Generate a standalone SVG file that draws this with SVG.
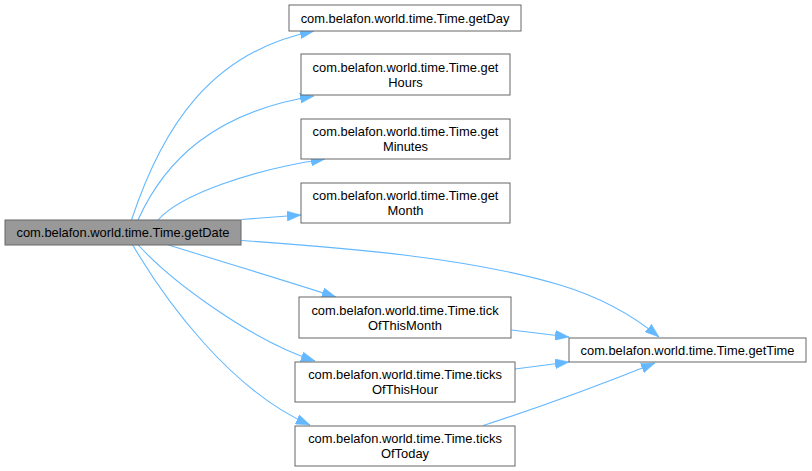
<svg xmlns="http://www.w3.org/2000/svg" width="812" height="471" viewBox="0 0 812 471">
<defs>
<style>
.node rect{fill:#ffffff;stroke:#666666;stroke-width:1}
.node.main rect{fill:#999999}
.node text{font-family:"Liberation Sans",Arial,sans-serif;font-size:12.9px;fill:#000000;text-anchor:middle}
.edges path{fill:none;stroke:#63b8ff;stroke-width:1.1}
</style>
<marker id="ah" viewBox="0 0 14 10" refX="14" refY="5" markerWidth="14" markerHeight="10" markerUnits="userSpaceOnUse" orient="auto">
<path d="M0,0 L14,5 L0,10 z" fill="#63b8ff" stroke="#63b8ff" stroke-width="0.5"/>
</marker>
</defs>
<rect width="812" height="471" fill="#ffffff"/>
<g class="edges">
<path marker-end="url(#ah)" d="M131.5,220 C162,128 210,52 314,31"/>
<path marker-end="url(#ah)" d="M138,220 C165,160 215,112 314,96"/>
<path marker-end="url(#ah)" d="M158,220 C180,195 250,170 325,159"/>
<path marker-end="url(#ah)" d="M241.5,219.5 L301,215"/>
<path marker-end="url(#ah)" d="M241.5,240.5 C350,248 470,258 560,285 C600,297 630,313 659,337"/>
<path marker-end="url(#ah)" d="M168.5,245 C220,261 280,279 336,297"/>
<path marker-end="url(#ah)" d="M138.3,245 C170,280 250,340 315,361"/>
<path marker-end="url(#ah)" d="M132.7,245 C165,300 230,390 310,425"/>
<path marker-end="url(#ah)" d="M511.5,330 L569,337"/>
<path marker-end="url(#ah)" d="M515,369 L569,362"/>
<path marker-end="url(#ah)" d="M483.3,425.5 C525,412 600,385 655,363"/>
</g>
<g id="node_getDate" class="node main">
<rect x="5" y="220" width="236" height="25"/>
<text x="123" y="237">com.belafon.world.time.Time.getDate</text>
</g>
<g id="node_getDay" class="node">
<rect x="289" y="5" width="232" height="26"/>
<text x="405" y="22.5">com.belafon.world.time.Time.getDay</text>
</g>
<g id="node_getHours" class="node">
<rect x="301" y="54" width="209" height="41"/>
<text x="405.5" y="71.5">com.belafon.world.time.Time.get</text>
<text x="405.5" y="86.5">Hours</text>
</g>
<g id="node_getMinutes" class="node">
<rect x="301" y="119" width="209" height="40"/>
<text x="405.5" y="136">com.belafon.world.time.Time.get</text>
<text x="405.5" y="151">Minutes</text>
</g>
<g id="node_getMonth" class="node">
<rect x="301" y="183" width="209" height="40"/>
<text x="405.5" y="200">com.belafon.world.time.Time.get</text>
<text x="405.5" y="215">Month</text>
</g>
<g id="node_tickOfThisMonth" class="node">
<rect x="299" y="297" width="212" height="41"/>
<text x="405" y="314.5">com.belafon.world.time.Time.tick</text>
<text x="405" y="329.5">OfThisMonth</text>
</g>
<g id="node_ticksOfThisHour" class="node">
<rect x="295" y="362" width="220" height="40"/>
<text x="405" y="379">com.belafon.world.time.Time.ticks</text>
<text x="405" y="394">OfThisHour</text>
</g>
<g id="node_ticksOfToday" class="node">
<rect x="295" y="426" width="220" height="40"/>
<text x="405" y="443">com.belafon.world.time.Time.ticks</text>
<text x="405" y="458">OfToday</text>
</g>
<g id="node_getTime" class="node">
<rect x="569" y="338" width="237" height="24"/>
<text x="687.5" y="354.5">com.belafon.world.time.Time.getTime</text>
</g>
</svg>
